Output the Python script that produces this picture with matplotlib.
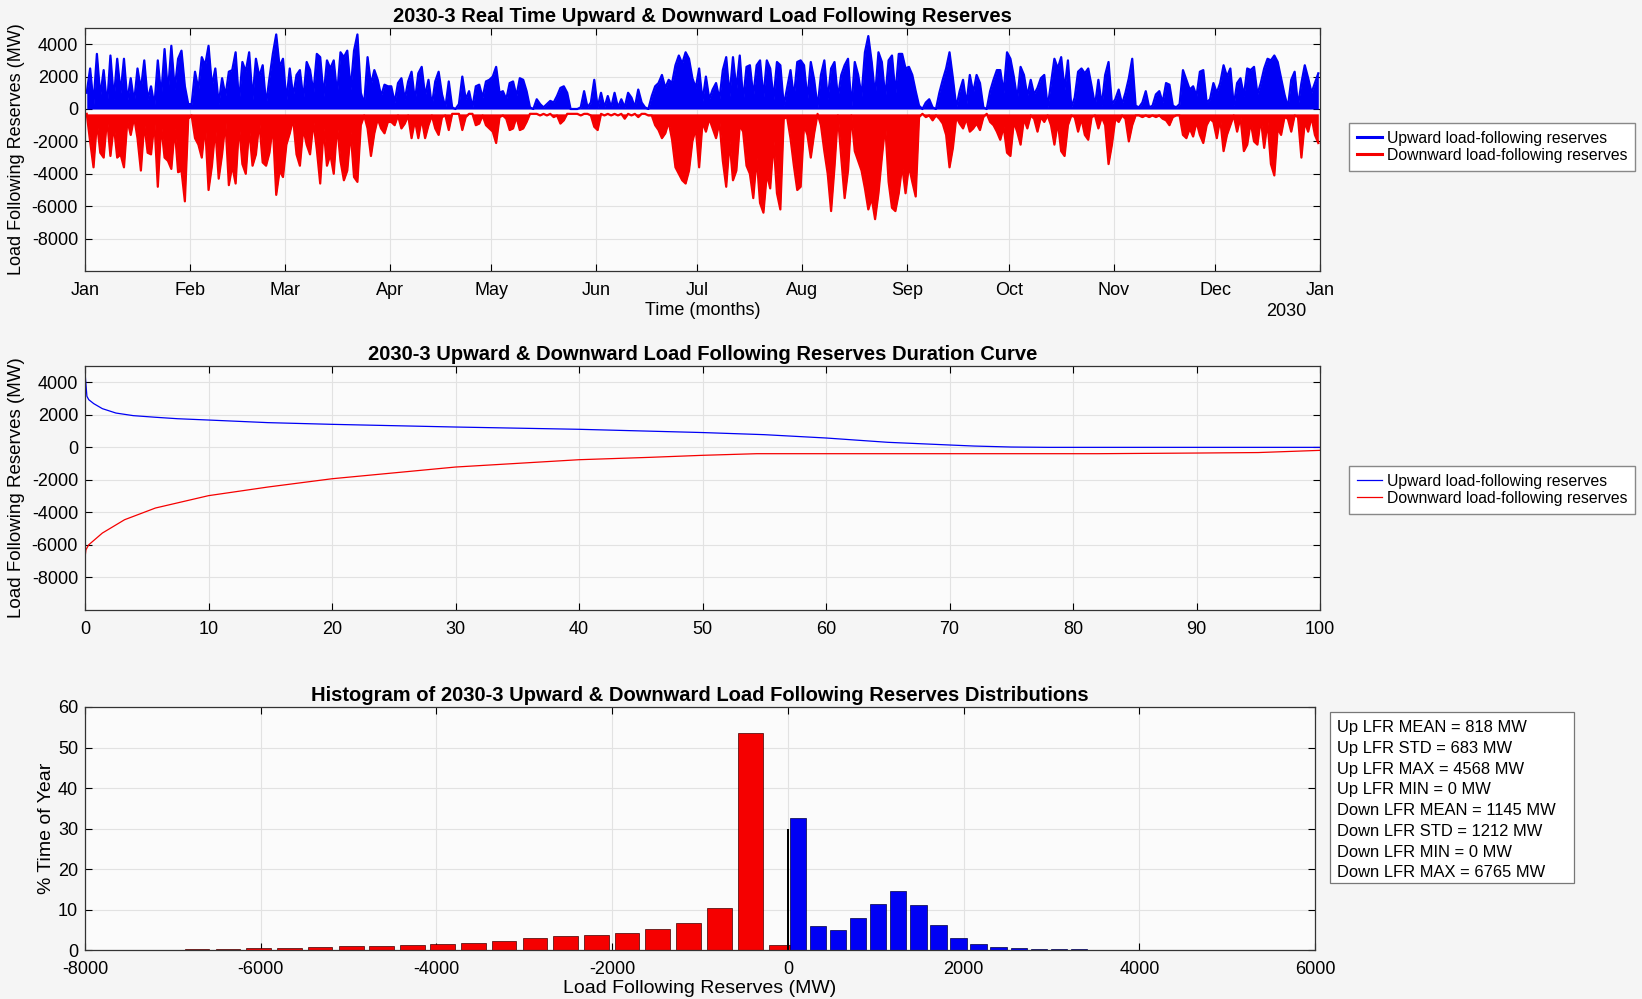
import numpy as np
import pandas as pd
import matplotlib
matplotlib.use("Agg")
import matplotlib.pyplot as plt
import matplotlib.dates as mdates
from matplotlib.lines import Line2D
from matplotlib.patches import Rectangle

plt.rcParams['font.family'] = ['Liberation Sans', 'DejaVu Sans']
plt.rcParams['axes.unicode_minus'] = False

# daily load-following reserves, in units of 100 MW (one row per month)
up_100mw = [
    10, 25, 3, 34, 8, 24, 2, 33, 6, 31, 10, 31, 5, 19, 4, 25, 12, 30, 6, 14, 2, 30, 8, 37, 10, 39, 12, 31, 36, 14, 3,
    3, 23, 12, 32, 27, 39, 14, 25, 3, 19, 8, 23, 24, 35, 4, 29, 23, 35, 6, 31, 20, 27, 3, 19, 34, 46, 26, 31,
    5, 25, 8, 21, 24, 6, 29, 24, 10, 34, 32, 8, 30, 25, 30, 9, 35, 32, 36, 12, 36, 46, 10, 3, 32, 15, 24, 18, 8, 15, 14,
    14, 4, 16, 19, 6, 17, 23, 5, 22, 26, 8, 18, 2, 17, 23, 9, 1, 17, 1, 0, 3, 20, 6, 11, 1, 14, 15, 7, 17, 18,
    20, 26, 10, 11, 6, 16, 17, 8, 19, 18, 11, 1, 0, 6, 3, 1, 3, 5, 4, 8, 13, 14, 10, 0, 0, 0, 1, 11, 1, 4, 18,
    1, 10, 1, 8, 1, 10, 1, 6, 1, 10, 7, 1, 12, 4, 1, 0, 8, 14, 16, 21, 13, 18, 16, 27, 33, 28, 35, 31, 19, 13,
    25, 5, 20, 6, 12, 16, 6, 24, 32, 8, 32, 12, 33, 5, 26, 27, 8, 27, 30, 7, 30, 25, 6, 29, 27, 2, 13, 24, 7, 29, 30,
    27, 6, 29, 18, 1, 21, 30, 6, 25, 29, 7, 21, 27, 31, 1, 29, 21, 8, 35, 45, 29, 8, 35, 29, 7, 30, 33, 9, 34, 34, 25,
    26, 21, 11, 2, 0, 4, 6, 1, 0, 10, 18, 25, 35, 19, 1, 11, 18, 3, 21, 10, 21, 16, 1, 0, 11, 18, 24, 24, 10, 35,
    31, 20, 6, 26, 21, 8, 18, 9, 13, 19, 21, 1, 16, 31, 25, 32, 12, 30, 1, 7, 23, 25, 22, 25, 14, 2, 18, 2, 21, 29, 3,
    6, 12, 3, 10, 19, 31, 2, 1, 4, 11, 1, 2, 9, 11, 4, 16, 15, 2, 1, 3, 24, 18, 12, 14, 8, 23, 24, 4, 6, 16,
    10, 16, 27, 20, 25, 2, 16, 19, 8, 25, 24, 26, 9, 16, 25, 31, 30, 33, 29, 19, 9, 1, 18, 23, 2, 16, 27, 19, 10, 16, 22,
]
down_100mw = [
    -3, -20, -36, -8, -27, -30, -6, -29, -10, -30, -28, -36, -7, -16, -5, -18, -38, -9, -27, -28, -8, -48, -10, -30, -32, -37, -12, -39, -38, -57, -6,
    -4, -18, -22, -30, -10, -50, -35, -12, -43, -28, -8, -47, -35, -46, -10, -34, -40, -12, -35, -28, -8, -33, -35, -27, -10, -53, -38, -42,
    -22, -15, -6, -28, -35, -12, -22, -28, -8, -25, -46, -12, -35, -28, -40, -10, -32, -44, -38, -14, -42, -45, -10, -4, -12, -29, -15, -6, -12, -15, -8,
    -8, -10, -4, -12, -9, -4, -18, -7, -18, -6, -18, -10, -4, -12, -16, -5, -4, -13, -3, -3, -3, -13, -5, -3, -3, -10, -9, -4, -10, -12,
    -14, -21, -5, -4, -6, -13, -12, -5, -13, -12, -8, -3, -3, -3, -4, -3, -4, -3, -5, -4, -9, -7, -3, -3, -3, -3, -4, -3, -3, -4, -11,
    -13, -3, -4, -3, -4, -3, -4, -3, -6, -3, -4, -3, -5, -3, -3, -4, -4, -10, -13, -18, -15, -8, -19, -36, -40, -44, -46, -38, -20, -12,
    -36, -8, -14, -6, -12, -18, -8, -32, -48, -20, -44, -38, -10, -14, -35, -40, -55, -30, -58, -64, -40, -49, -20, -52, -62, -6, -5, -18, -35, -50, -48,
    -10, -16, -30, -15, -3, -10, -26, -40, -63, -36, -4, -30, -55, -38, -4, -26, -32, -38, -49, -62, -55, -68, -52, -30, -10, -45, -61, -63, -52, -35, -52,
    -35, -45, -54, -5, -3, -5, -4, -7, -4, -6, -9, -16, -36, -24, -5, -9, -12, -6, -14, -12, -9, -13, -5, -3, -8, -10, -14, -19, -11, -27,
    -29, -8, -14, -22, -6, -12, -4, -6, -14, -5, -8, -4, -10, -22, -8, -26, -29, -10, -4, -5, -14, -6, -16, -19, -5, -4, -12, -5, -10, -34, -22,
    -6, -8, -4, -6, -20, -10, -4, -4, -5, -4, -5, -4, -5, -4, -6, -7, -10, -5, -4, -4, -16, -18, -12, -17, -8, -16, -21, -10, -6, -8,
    -18, -6, -26, -16, -10, -4, -14, -5, -26, -22, -8, -20, -22, -6, -24, -8, -34, -41, -12, -16, -5, -6, -14, -4, -5, -30, -8, -14, -5, -16, -21,
]

# duration curves (% of year exceeded vs MW)
up_dur_pct = [0, 0.15, 0.3, 0.7, 1.4, 2.5, 3.9, 5.7, 7.5, 10, 14.8, 20, 30, 40, 50, 55, 60, 65, 70, 72, 75, 78, 100]
up_dur_mw = [4568, 3140, 2930, 2690, 2380, 2110, 1950, 1850, 1760, 1680, 1520, 1415, 1250, 1110, 910, 780, 575, 310, 145, 80, 20, 0, 0]
down_dur_pct = [0, 0.07, 0.3, 1.4, 3.2, 5.7, 10, 14.8, 20, 30, 40, 45.7, 50, 54.4, 82, 90, 95, 100]
down_dur_mw = [-6765, -6300, -5990, -5270, -4450, -3730, -2970, -2440, -1930, -1210, -760, -615, -490, -390, -390, -350, -320, -185]

# histogram bins (centre MW, % time of year)
down_bin_mw = [-6726, -6375, -6024, -5673, -5327, -4970, -4625, -4274, -3929, -3580,
               -3232, -2881, -2530, -2179, -1833, -1482, -1131, -780, -428, -81]
down_bin_pct = [0.15, 0.2, 0.4, 0.6, 0.7, 0.9, 0.9, 1.15, 1.4, 1.7,
                2.3, 2.9, 3.5, 3.6, 4.1, 5.3, 6.65, 10.4, 53.5, 1.15]
up_bin_mw = [114, 343, 571, 799, 1028, 1256, 1485, 1713, 1941, 2170,
             2398, 2627, 2855, 3083, 3312, 3540, 3769, 3997, 4225, 4454]
up_bin_pct = [32.7, 6.0, 4.9, 7.8, 11.4, 14.6, 11.2, 6.1, 3.0, 1.4,
              0.75, 0.5, 0.3, 0.2, 0.15, 0.1, 0.1, 0.08, 0.05, 0.05]
zero_pct = 30

stats_lines = [
    "Up LFR MEAN = 818 MW",
    "Up LFR STD = 683 MW",
    "Up LFR MAX = 4568 MW",
    "Up LFR MIN = 0 MW",
    "Down LFR MEAN = 1145 MW",
    "Down LFR STD = 1212 MW",
    "Down LFR MIN = 0 MW",
    "Down LFR MAX = 6765 MW",
]

days = pd.date_range("2030-01-01 12:00", periods=365, freq="D")
up = np.array(up_100mw) * 100
down = np.array(down_100mw) * 100

BLUE = "#0000f5"
RED = "#f50000"
fig = plt.figure(figsize=(16.42, 9.99), dpi=100, facecolor="#f5f5f5")


def style(ax):
    ax.set_facecolor("#fbfbfb")
    ax.grid(True, color="#e2e2e2", lw=0.8)
    ax.set_axisbelow(True)
    ax.tick_params(direction="in", top=True, right=True, labelsize=13, length=5, width=0.8, pad=5)
    ax.tick_params(axis="x", pad=8)
    for s in ax.spines.values():
        s.set_color("#333333")
        s.set_linewidth(0.9)


def add_legend(handles, top_px):
    fig.legend(handles, ["Upward load-following reserves", "Downward load-following reserves"],
               loc="upper left", bbox_to_anchor=(1349 / 1642, 1 - top_px / 999), fontsize=11.3,
               frameon=True, fancybox=False, edgecolor="#888888", facecolor="white", framealpha=1,
               handlelength=1.6, handletextpad=0.3, borderpad=0.5, labelspacing=0.12, borderaxespad=0)


# real time series
ax1 = fig.add_axes([0.0518, 0.7287, 0.7521, 0.2433])
style(ax1)
ax1.fill_between(days, up.min(), up, color=BLUE, lw=0)
ax1.fill_between(days, down, down.max(), color=RED, lw=0)
ax1.plot(days, up, color=BLUE, lw=1.6)
ax1.plot(days, down, color=RED, lw=1.6)
ax1.set_xlim(pd.Timestamp("2030-01-01"), pd.Timestamp("2031-01-01"))
ax1.set_ylim(-10000, 5000)
ax1.set_yticks(range(-8000, 4001, 2000))
ax1.xaxis.set_major_locator(mdates.MonthLocator())
ax1.xaxis.set_major_formatter(mdates.DateFormatter("%b"))
ax1.set_title("2030-3 Real Time Upward & Downward Load Following Reserves", fontsize=14.5, fontweight="bold", pad=4)
ax1.set_xlabel("Time (months)", fontsize=13, labelpad=2)
ax1.set_ylabel("Load Following Reserves (MW)", fontsize=13, labelpad=5)
ax1.text(0.9725, -0.165, "2030", transform=ax1.transAxes, ha="center", va="center", fontsize=13)
add_legend([Line2D([], [], color=BLUE, lw=2.2), Line2D([], [], color=RED, lw=2.2)], 123)

# duration curves
ax2 = fig.add_axes([0.0518, 0.3894, 0.7521, 0.2442])
style(ax2)
ax2.plot(up_dur_pct, up_dur_mw, color=BLUE, lw=0.9)
ax2.plot(down_dur_pct, down_dur_mw, color=RED, lw=0.9)
ax2.set_xlim(0, 100)
ax2.set_ylim(-10000, 5000)
ax2.set_xticks(range(0, 101, 10))
ax2.set_yticks(range(-8000, 4001, 2000))
ax2.set_title("2030-3 Upward & Downward Load Following Reserves Duration Curve", fontsize=14.5, fontweight="bold", pad=4)
ax2.set_ylabel("Load Following Reserves (MW)", fontsize=13.5, labelpad=5)
add_legend([Line2D([], [], color=BLUE, lw=0.9), Line2D([], [], color=RED, lw=0.9)], 466)

# histogram
ax3 = fig.add_axes([0.0518, 0.049, 0.7491, 0.2433])
style(ax3)
ax3.bar(down_bin_mw, down_bin_pct, width=280, color=RED, edgecolor="#400000", lw=0.5)
ax3.bar([0], [zero_pct], width=25, color="black")
ax3.bar(up_bin_mw, up_bin_pct, width=185, color=BLUE, edgecolor="#000040", lw=0.5)
ax3.set_xlim(-8000, 6000)
ax3.set_ylim(0, 60)
ax3.set_xticks(range(-8000, 6001, 2000))
ax3.set_yticks(range(0, 61, 10))
ax3.set_title("Histogram of 2030-3 Upward & Downward Load Following Reserves Distributions",
              fontsize=14.5, fontweight="bold", pad=4)
ax3.set_xlabel("Load Following Reserves (MW)", fontsize=14, labelpad=1)
ax3.set_ylabel("% Time of Year", fontsize=14, labelpad=2)

# summary statistics box
fig.add_artist(Rectangle((1330 / 1642, 1 - 883 / 999), 244 / 1642, 171 / 999, transform=fig.transFigure,
                         facecolor="white", edgecolor="#777777", lw=0.9))
fig.text(1337 / 1642, 1 - 720 / 999, "\n".join(stats_lines), ha="left", va="top", fontsize=11.9,
         linespacing=1.48)

fig.savefig("out.png", dpi=100, facecolor=fig.get_facecolor())
